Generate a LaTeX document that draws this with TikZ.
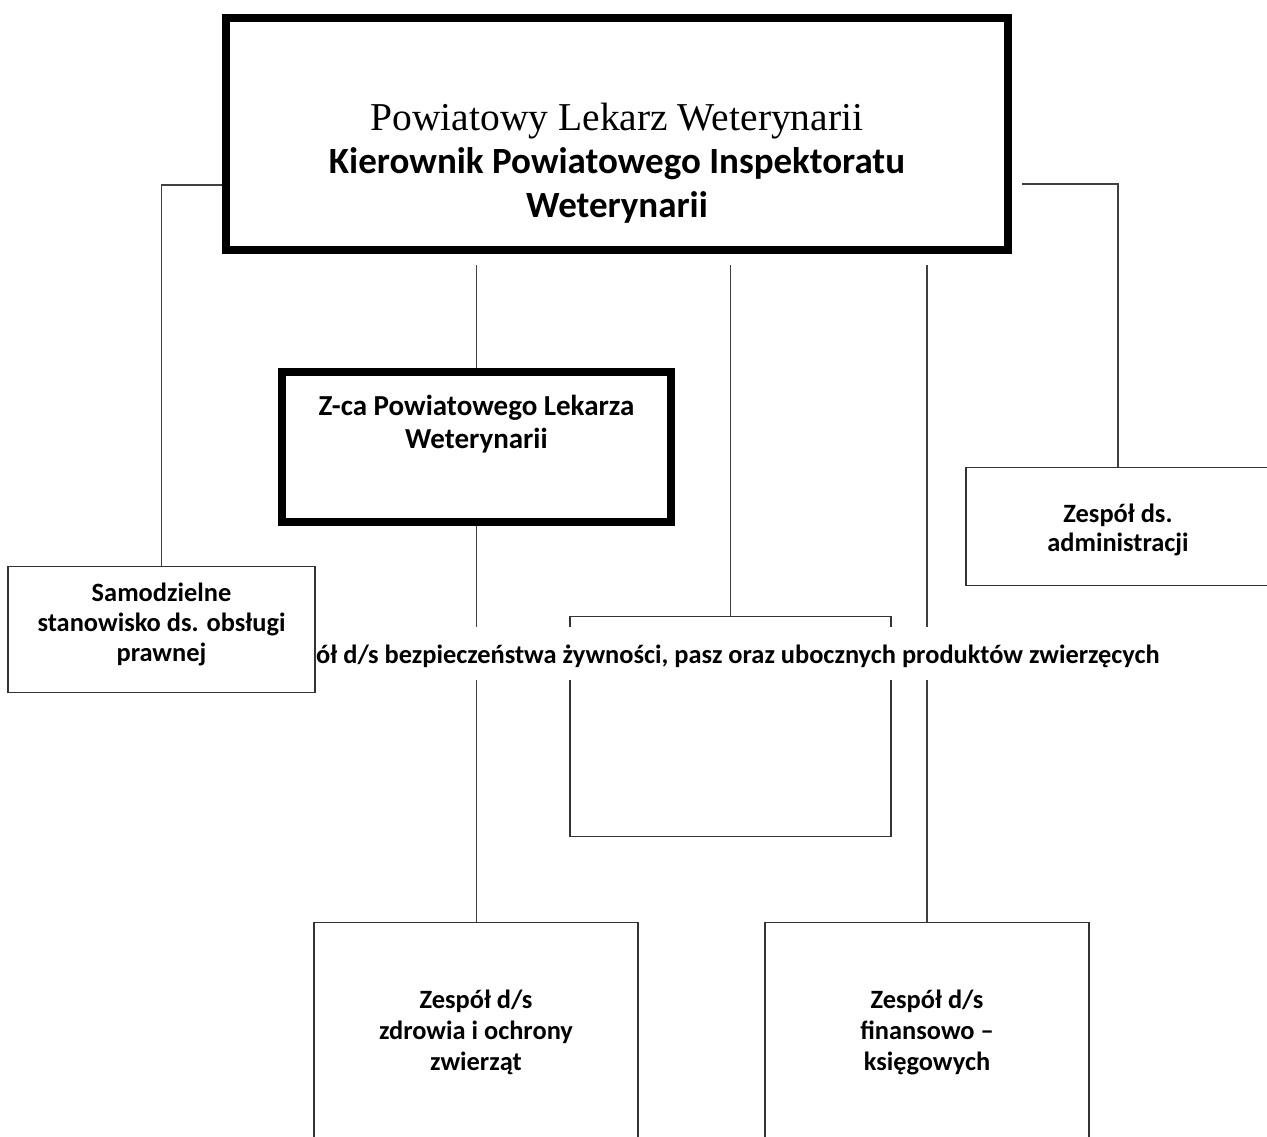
\documentclass[tikz,border=0pt]{standalone}
\usepackage{fontspec}
\setmainfont{Carlito}
\newfontfamily\headserif{Liberation Serif}

\begin{document}
\begin{tikzpicture}[x=1pt,y=-1pt,
            chief node/.style={draw,line width=8pt,fill=white,inner sep=0pt,align=center},
            unit node/.style={draw=black!80,line width=1.2pt,fill=white,inner sep=0pt,align=center,
                font=\bfseries\fontsize{26.4}{31}\selectfont},
            link/.style={draw=black!75,line width=1.2pt}]

        % Page frame
        \path[use as bounding box] (0,0) rectangle (1267,1137);
        \clip (0,0) rectangle (1267,1137);

        % Define boxes
        \node[chief node,anchor=north,minimum width=782pt,text height=200pt,text depth=32pt,
            font=\bfseries\fontsize{37}{44}\selectfont] (plw) at (617,14)
            {{\headserif\mdseries\fontsize{39.5}{44}\selectfont Powiatowy Lekarz Weterynarii}\\
             Kierownik Powiatowego Inspektoratu\\Weterynarii};
        \node[chief node,anchor=north,minimum width=389pt,text height=76pt,text depth=74pt,
            font=\bfseries\fontsize{29}{33}\selectfont] (zca) at (476.5,368)
            {Z-ca Powiatowego Lekarza\\Weterynarii};
        \node[unit node,anchor=north,minimum width=304pt,text height=84pt,text depth=34pt,
            font=\bfseries\fontsize{26.4}{29.5}\selectfont] (adm) at (1118,467)
            {Zespół ds.\\administracji};
        \node[unit node,anchor=north,minimum width=321pt,minimum height=220pt] (bezp) at (730.5,616) {};
        \node[unit node,anchor=north,minimum width=324pt,text height=148pt,text depth=82pt] (zdr) at (476,922)
            {Zespół d/s\\zdrowia i ochrony\\zwierząt};
        \node[unit node,anchor=north,minimum width=324pt,text height=148pt,text depth=82pt] (fin) at (927,922)
            {Zespół d/s\\finansowo –\\księgowych};

        % Draw edges
        \path[link]
            (plw.south -| zca.north) edge[shorten <=11pt] (zca.north)
            (plw.south -| bezp.north) edge[shorten <=11pt] (bezp.north)
            (plw.south -| fin.north) edge[shorten <=11pt] (fin.north)
            (zca.south) edge (zca.south |- zdr.north);
        \draw[link,shorten <=10pt] ([yshift=-50pt]plw.east) -| (adm.north);

        % Label of the food team, wider than its box
        \node[fill=white,inner xsep=3pt,inner ysep=0pt,text height=36pt,text depth=17pt,anchor=base east,
            font=\bfseries\fontsize{26.4}{31}\selectfont] (bezplabel) at (1163,663)
            {Zespół d/s bezpieczeństwa żywności, pasz oraz ubocznych produktów zwierzęcych};

        \node[unit node,anchor=north,minimum width=307pt,text height=95pt,text depth=31pt,
            font=\bfseries\fontsize{26.4}{30}\selectfont] (sam) at (161.5,566)
            {Samodzielne\\stanowisko ds. obsługi\\prawnej};
        \draw[link] ([yshift=-51pt]plw.west) -| (sam.north);

        \end{tikzpicture}
\end{document}
